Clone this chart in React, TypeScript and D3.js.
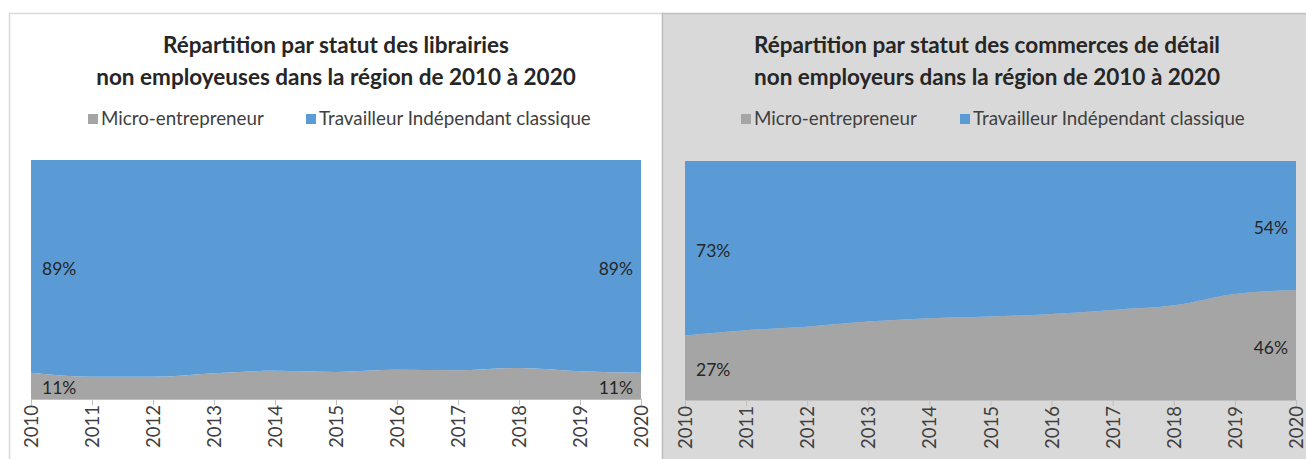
import React from 'react';
import * as d3 from 'd3';

const years = ['2010', '2011', '2012', '2013', '2014', '2015', '2016', '2017', '2018', '2019', '2020'];
const librairiesMicro = [11, 9.3, 9.3, 10.8, 11.8, 11.3, 12.2, 12, 13, 11.6, 11];
const librairiesClassique = [89, 90.7, 90.7, 89.2, 88.2, 88.7, 87.8, 88, 87, 88.4, 89];
const commercesMicro = [27, 29.2, 30.7, 32.8, 34.2, 34.9, 36, 37.7, 39.6, 44.4, 46];
const commercesClassique = [73, 70.8, 69.3, 67.2, 65.8, 65.1, 64, 62.3, 60.4, 55.6, 54];
const seriesNames = ['Micro-entrepreneur', 'Travailleur Indépendant classique'];
const seriesColors = ['#a5a5a5', '#5b9bd5'];
const titleLibrairies = ['Répartition par statut des librairies', 'non employeuses dans la région de 2010 à 2020'];
const titleCommerces = ['Répartition par statut des commerces de détail', 'non employeurs dans la région de 2010 à 2020'];

const FONT = 'Lato, "Open Sans", sans-serif';

type PanelProps = {
  px: number; pw: number; bg: string; border: string;
  title: string[]; titleX: number;
  micro: number[]; classique: number[];
  left: number; right: number; top: number; bottom: number;
  legendX: number[];
};

function Panel(p: PanelProps) {
  const x = d3.scalePoint<string>().domain(years).range([p.left, p.right]);
  const y = d3.scaleLinear().domain([0, 100]).range([p.bottom, p.top]);
  const rows = years.map((yr, i) => ({ year: yr, micro: p.micro[i], classique: p.classique[i] }));
  const stacked = d3.stack<any>().keys(['micro', 'classique'])(rows);
  const area = d3.area<any>()
    .x((d) => x(d.data.year) as number)
    .y0((d) => y(d[0]))
    .y1((d) => y(d[1]))
    .curve(d3.curveMonotoneX);
  const n = years.length;
  const labels: any[] = [];
  stacked.forEach((s, si) => {
    [0, n - 1].forEach((idx) => {
      const d = s[idx];
      const v = si === 0 ? p.micro[idx] : p.classique[idx];
      labels.push({
        x: idx === 0 ? p.left + 11 : p.right - 8,
        anchor: idx === 0 ? 'start' : 'end',
        y: (y(d[0]) + y(d[1])) / 2 + 2,
        text: `${Math.round(v)}%`,
        key: `${si}-${idx}`,
      });
    });
  });
  return (
    <g>
      <rect x={p.px} y={13.5} width={p.pw} height={460} fill={p.bg} stroke={p.border} strokeWidth={1.5} />
      {p.title.map((t, i) => (
        <text key={i} x={p.titleX} y={53 + i * 32} textAnchor="middle" fontFamily={FONT} fontWeight="bold" fontSize={22.5} fill="#262626">{t}</text>
      ))}
      {seriesNames.map((nm, i) => (
        <g key={nm}>
          <rect x={p.legendX[i]} y={114} width={10} height={10} fill={seriesColors[i]} />
          <text x={p.legendX[i] + 13} y={125} fontFamily={FONT} fontSize={18.8} fill="#404040">{nm}</text>
        </g>
      ))}
      {stacked.map((s, i) => (
        <path key={i} d={area(s) as string} fill={seriesColors[i]} />
      ))}
      <line x1={p.left} x2={p.right} y1={p.bottom + 0.5} y2={p.bottom + 0.5} stroke="#bfbfbf" strokeWidth={1} />
      {years.map((yr) => (
        <g key={yr} transform={`translate(${x(yr)},${p.bottom})`}>
          <line x1={0.5} x2={0.5} y1={0} y2={6} stroke="#bfbfbf" />
          <text transform="translate(7,6) rotate(-90)" textAnchor="end" fontFamily={FONT} fontSize={18.5} fill="#404040">{yr}</text>
        </g>
      ))}
      {labels.map((l) => (
        <text key={l.key} x={l.x} y={l.y} textAnchor={l.anchor} dominantBaseline="central" fontFamily={FONT} fontSize={17.5} fill="#262626">{l.text}</text>
      ))}
    </g>
  );
}

export default function App() {
  return (
    <svg width={1306} height={459} style={{ position: 'absolute', left: 0, top: 0, background: '#ffffff' }}>
      <Panel px={9.5} pw={653} bg="#ffffff" border="#d9d9d9" title={titleLibrairies} titleX={336}
        micro={librairiesMicro} classique={librairiesClassique}
        left={31} right={641} top={160} bottom={399} legendX={[88, 306]} />
      <Panel px={662.5} pw={660} bg="#d9d9d9" border="#bfbfbf" title={titleCommerces} titleX={987}
        micro={commercesMicro} classique={commercesClassique}
        left={685} right={1296} top={161} bottom={400} legendX={[741, 960]} />
    </svg>
  );
}
